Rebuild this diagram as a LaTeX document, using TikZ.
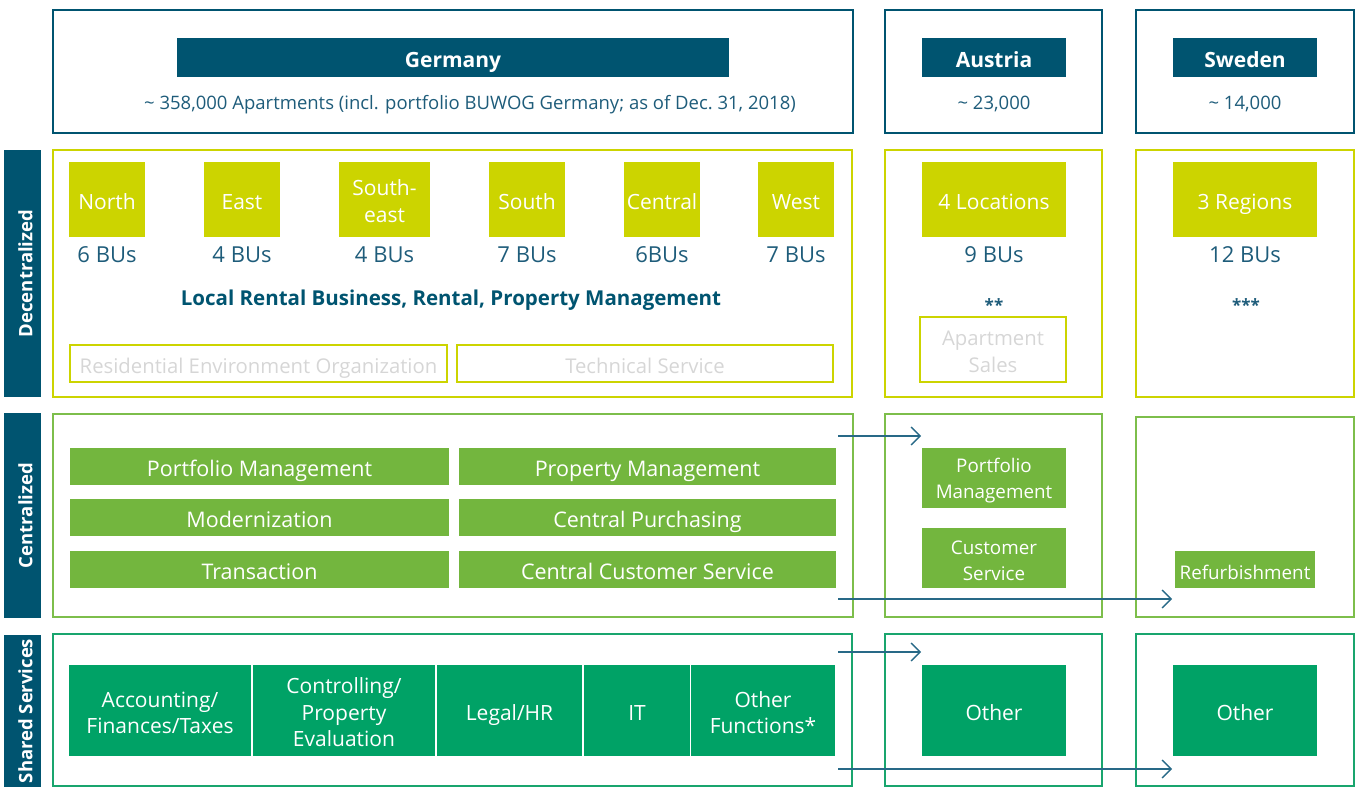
\documentclass[tikz,border=0pt]{standalone}
\usepackage{fontspec}
\setmainfont{Open Sans}
\usetikzlibrary{positioning}
\usetikzlibrary{arrows.meta}

\definecolor{vblue}{RGB}{0,84,112}
\definecolor{vtext}{RGB}{30,92,122}
\definecolor{vyellow}{RGB}{204,212,0}
\definecolor{vgreen}{RGB}{115,182,62}
\definecolor{vgreenline}{RGB}{125,190,75}
\definecolor{vshared}{RGB}{0,162,102}
\definecolor{vsharedline}{RGB}{25,165,110}
\definecolor{vghost}{RGB}{214,214,214}
\definecolor{varrow}{RGB}{40,105,135}

\newcommand{\boxlift}{\rule{0pt}{20pt}}

\begin{document}
\begin{tikzpicture}[x=1pt,y=-1pt,
        every node/.style={inner sep=0pt, align=center, text height=24pt, text depth=4.5pt},
        multiline/.style={text height=, text depth=},
        countryframe/.style={draw=vblue, line width=2.5pt},
        decframe/.style={draw=vyellow, line width=2.5pt},
        cenframe/.style={draw=vgreenline, line width=2.5pt},
        shframe/.style={draw=vsharedline, line width=2.5pt},
        header/.style={fill=vblue, text=white, minimum height=39, font=\fontsize{21}{26}\selectfont\bfseries},
        sidebar/.style={fill=vblue, text=white, rotate=90, minimum height=37, font=\fontsize{18.5}{20}\selectfont\bfseries},
        region/.style={fill=vyellow, text=white, minimum height=75, font=\fontsize{21}{27}\selectfont},
        bus/.style={text=vtext, font=\fontsize{22}{26}\selectfont},
        units/.style={text=vtext, font=\fontsize{18.5}{22}\selectfont},
        ghostbox/.style={draw=vyellow, line width=2.5pt, text=vghost, font=\fontsize{20.3}{27}\selectfont},
        central/.style={fill=vgreen, text=white, font=\fontsize{21.5}{26}\selectfont},
        smallcentral/.style={central, font=\fontsize{18.8}{26}\selectfont},
        shared/.style={fill=vshared, text=white, minimum height=91, font=\fontsize{21}{26.5}\selectfont},
        flow/.style={draw=varrow, line width=1.3pt, -{Straight Barb[length=9pt,width=18pt,line width=1.3pt]}}]
    \useasboundingbox (0,0) rectangle (1357,787);

    % countries
    \node[countryframe, minimum width=800, minimum height=123] (germany) at (453,71.5) {};
    \node[countryframe, minimum width=217, minimum height=123] (austria) at (993.5,71.5) {};
    \node[countryframe, minimum width=218, minimum height=123] (sweden) at (1245,71.5) {};
    \node[header, minimum width=552] (germanyHead) at (453,57.5) {Germany};
    \node[header, minimum width=144] (austriaHead) at (994,57.5) {Austria};
    \node[header, minimum width=144] (swedenHead) at (1245,57.5) {Sweden};
    \node[units] (germanyUnits) at (470,100) {\textasciitilde{} 358,000 Apartments (incl. portfolio BUWOG Germany; as of Dec.~31, 2018)};
    \node[units] (austriaUnits) at (994,100) {\textasciitilde{} 23,000};
    \node[units] (swedenUnits) at (1245,100) {\textasciitilde{} 14,000};

    % decentralized
    \node[sidebar, minimum width=247] (decLabel) at (22.5,273.5) {Decentralized};
    \node[decframe, minimum width=799, minimum height=247] (germanyDec) at (452.5,273.5) {};
    \node[decframe, minimum width=217, minimum height=247] (austriaDec) at (993.5,273.5) {};
    \node[decframe, minimum width=218, minimum height=247] (swedenDec) at (1245,273.5) {};
    \node[region, minimum width=76] (north) at (107,199.5) {North};
    \node[region, minimum width=76] (east) at (242,199.5) {East};
    \node[region, multiline, minimum width=91] (southeast) at (384.5,199.5) {\boxlift South-\\east};
    \node[region, minimum width=76] (south) at (527,199.5) {South};
    \node[region, minimum width=76] (central) at (662,199.5) {Central};
    \node[region, minimum width=76] (west) at (796,199.5) {West};
    \node[bus] (northBU) at (107,253) {6 BUs};
    \node[bus] (eastBU) at (242,253) {4 BUs};
    \node[bus] (southeastBU) at (384.5,253) {4 BUs};
    \node[bus] (southBU) at (527,253) {7 BUs};
    \node[bus] (centralBU) at (662,253) {6BUs};
    \node[bus] (westBU) at (796,253) {7 BUs};
    \node[text=vblue, font=\fontsize{20.5}{24}\selectfont\bfseries] (localRental) at (451,296) {Local Rental Business, Rental, Property Management};
    \node[ghostbox, minimum width=377, minimum height=37] (residential) at (258.5,363.5) {Residential Environment Organization};
    \node[ghostbox, minimum width=376, minimum height=37] (technical) at (645,363.5) {Technical Service};
    \node[region, minimum width=144] (locations) at (994,199.5) {4 Locations};
    \node[bus] (locationsBU) at (994,253) {9 BUs};
    \node[bus, font=\fontsize{17}{18}\selectfont\bfseries] (austriaNote) at (994,302) {**};
    \node[ghostbox, multiline, minimum width=146, minimum height=65] (apartmentSales) at (993,349.5) {\boxlift Apartment\\Sales};
    \node[region, minimum width=144] (regions) at (1245,199.5) {3 Regions};
    \node[bus] (regionsBU) at (1245,253) {12 BUs};
    \node[bus, font=\fontsize{17}{18}\selectfont\bfseries] (swedenNote) at (1246,302) {***};

    % centralized
    \node[sidebar, minimum width=205] (cenLabel) at (22.5,515.5) {Centralized};
    \node[cenframe, minimum width=800, minimum height=203] (germanyCen) at (453,515.5) {};
    \node[cenframe, minimum width=217, minimum height=203] (austriaCen) at (993.5,515.5) {};
    \node[cenframe, minimum width=218, minimum height=200] (swedenCen) at (1245,517) {};
    \node[central, minimum width=379, minimum height=37] (portfolio) at (259.5,466.5) {Portfolio Management};
    \node[central, minimum width=379, minimum height=37] (modernization) at (259.5,517.5) {Modernization};
    \node[central, minimum width=379, minimum height=37] (transaction) at (259.5,569.5) {Transaction};
    \node[central, minimum width=377, minimum height=37] (property) at (647.5,466.5) {Property Management};
    \node[central, minimum width=377, minimum height=37] (purchasing) at (647.5,517.5) {Central Purchasing};
    \node[central, minimum width=377, minimum height=37] (customer) at (647.5,569.5) {Central Customer Service};
    \node[smallcentral, multiline, minimum width=144, minimum height=60] (atPortfolio) at (994,478) {\boxlift Portfolio\\Management};
    \node[smallcentral, multiline, minimum width=144, minimum height=60] (atCustomer) at (994,558) {\boxlift Customer\\Service};
    \node[smallcentral, minimum width=140, minimum height=37] (refurbishment) at (1245,569.5) {Refurbishment};

    % shared services
    \node[sidebar, minimum width=152] (shLabel) at (22.5,711) {Shared Services};
    \node[shframe, minimum width=799, minimum height=152] (germanySh) at (452.5,710) {};
    \node[shframe, minimum width=217, minimum height=152] (austriaSh) at (993.5,710) {};
    \node[shframe, minimum width=218, minimum height=152] (swedenSh) at (1245,710) {};
    \node[shared, multiline, minimum width=182] (accounting) at (160,710.5) {\boxlift Accounting/\\Finances/Taxes};
    \node[shared, multiline, minimum width=182] (controlling) at (344,710.5) {\boxlift Controlling/\\Property\\Evaluation};
    \node[shared, minimum width=145] (legal) at (509.5,710.5) {Legal/HR};
    \node[shared, minimum width=106] (it) at (637,710.5) {IT};
    \node[shared, multiline, minimum width=144] (otherFunctions) at (763,710.5) {\boxlift Other\\Functions*};
    \node[shared, minimum width=144] (atOther) at (994,710.5) {Other};
    \node[shared, minimum width=144] (seOther) at (1245,710.5) {Other};

    % transfers
    \coordinate (cenTopStart) at (838,436);
    \coordinate (cenTopEnd) at (921,436);
    \coordinate (cenBotStart) at (838,599);
    \coordinate (cenBotEnd) at (1172,599);
    \coordinate (shTopStart) at (838,652);
    \coordinate (shTopEnd) at (921,652);
    \coordinate (shBotStart) at (838,769);
    \coordinate (shBotEnd) at (1172,769);
    \draw[flow] (cenTopStart) -- (cenTopEnd);
    \draw[flow] (cenBotStart) -- (cenBotEnd);
    \draw[flow] (shTopStart) -- (shTopEnd);
    \draw[flow] (shBotStart) -- (shBotEnd);
\end{tikzpicture}
\end{document}
